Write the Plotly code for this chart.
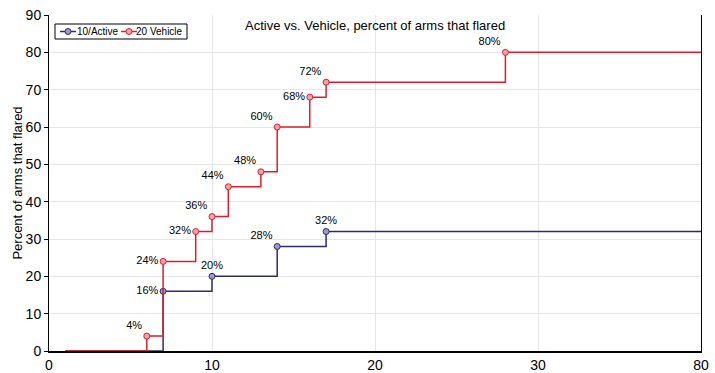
import plotly.graph_objects as go

# Data
active_x = [7, 10, 14, 17]
active_y = [16, 20, 28, 32]
vehicle_x = [6, 7, 9, 10, 11, 13, 14, 16, 17, 28]
vehicle_y = [4, 24, 32, 36, 44, 48, 60, 68, 72, 80]
start_x = 1
end_x = 80
x_tick_vals = [0, 10, 20, 30, 80]
x_tick_text = ["0", "10", "20", "30", "80"]
y_tick_vals = [0, 10, 20, 30, 40, 50, 60, 70, 80, 90]
series_names = ["10/Active", "20 Vehicle"]

active_pos = ["middle left", "top center", "top left", "top center"]
vehicle_pos = ["top left", "middle left", "middle left", "top left", "top left",
               "top left", "top left", "middle left", "top left", "top left"]


def fx(v):
    # broken axis: linear to 30, compressed beyond
    return v if v <= 30 else 30 + (v - 30) / 5.0


def step_series(xs, ys):
    lx = [fx(start_x)] + [fx(v) for v in xs] + [fx(end_x)]
    ly = [0] + list(ys) + [ys[-1]]
    return lx, ly


NAVY = "#2f2b6e"
NAVY_FILL = "#9d99cf"
RED = "#dc1f2c"
RED_FILL = "#f5a3aa"

W, H = 715, 373
L, R, T, B = 49, 14, 15, 22
PW, PH = W - L - R, H - T - B


def px(xp):
    return (xp - L) / PW


def py(yp):
    return (H - B - yp) / PH


fig = go.Figure()

for xs, ys, pos, lc, fc in [
    (active_x, active_y, active_pos, NAVY, NAVY_FILL),
    (vehicle_x, vehicle_y, vehicle_pos, RED, RED_FILL),
]:
    lx, ly = step_series(xs, ys)
    fig.add_trace(go.Scatter(x=lx, y=ly, mode="lines", line=dict(color=lc, width=1.5, shape="hv"),
                             showlegend=False, hoverinfo="skip"))
    fig.add_trace(go.Scatter(x=[fx(v) for v in xs], y=ys, mode="markers+text",
                             text=[f"{v}%" for v in ys], textposition=pos,
                             textfont=dict(family="Arial, Liberation Sans", size=11, color="black"),
                             marker=dict(size=6, color=fc, line=dict(color=lc, width=1)),
                             showlegend=False))

# manual compact legend
shapes = [dict(type="rect", xref="paper", yref="paper", x0=px(55), x1=px(187), y0=py(39), y1=py(24),
               line=dict(color="black", width=1), fillcolor="white", layer="above")]
annotations = []
legend_items = [(series_names[0], NAVY, NAVY_FILL, 60, 78), (series_names[1], RED, RED_FILL, 121, 137)]
ly_ = py(31.5)
for name, lc, fc, x0, tx in legend_items:
    shapes.append(dict(type="line", xref="paper", yref="paper", x0=px(x0), x1=px(x0 + 16), y0=ly_, y1=ly_,
                       line=dict(color=lc, width=1.5), layer="above"))
    shapes.append(dict(type="circle", xref="paper", yref="paper", xsizemode="pixel", ysizemode="pixel",
                       xanchor=px(x0 + 8), yanchor=ly_, x0=-3, x1=3, y0=-3, y1=3,
                       line=dict(color=lc, width=1), fillcolor=fc, layer="above"))
    annotations.append(dict(text=name, xref="paper", yref="paper", x=px(tx), y=ly_, xanchor="left",
                            yanchor="middle", showarrow=False, font=dict(size=10, color="black"),
                            xshift=-3))

annotations.append(dict(text="Active vs. Vehicle, percent of arms that flared", xref="paper", yref="paper",
                        x=0.5, y=py(25), xanchor="center", yanchor="middle", showarrow=False,
                        font=dict(size=13, color="black")))

fig.update_layout(
    width=W, height=H,
    margin=dict(l=L, r=R, t=T, b=B),
    plot_bgcolor="white", paper_bgcolor="white",
    font=dict(family="Arial, Liberation Sans", size=12, color="black"),
    showlegend=False,
    shapes=shapes,
    annotations=annotations,
)

fig.update_xaxes(range=[0, 40], tickvals=[fx(v) for v in x_tick_vals], ticktext=x_tick_text,
                 showgrid=True, gridcolor="#e6e6e6", gridwidth=1,
                 showline=True, linecolor="black", linewidth=2,
                 ticks="", ticklabelstandoff=0,
                 tickfont=dict(family="Liberation Sans Narrow, Arial", size=14),
                 zeroline=False, automargin=False)
fig.update_yaxes(range=[0, 90], tickvals=y_tick_vals,
                 showgrid=True, gridcolor="#e6e6e6", gridwidth=1,
                 showline=True, linecolor="black", linewidth=1, mirror=True,
                 ticks="outside", ticklen=4, tickcolor="black",
                 tickfont=dict(family="Liberation Sans Narrow, Arial", size=14),
                 title=dict(text="Percent of arms that flared", font=dict(size=13), standoff=0),
                 zeroline=False, automargin=False)

fig.write_html("out.html", config={"displayModeBar": False},
               post_script="document.body.style.margin='0';document.body.style.overflow='hidden';")
